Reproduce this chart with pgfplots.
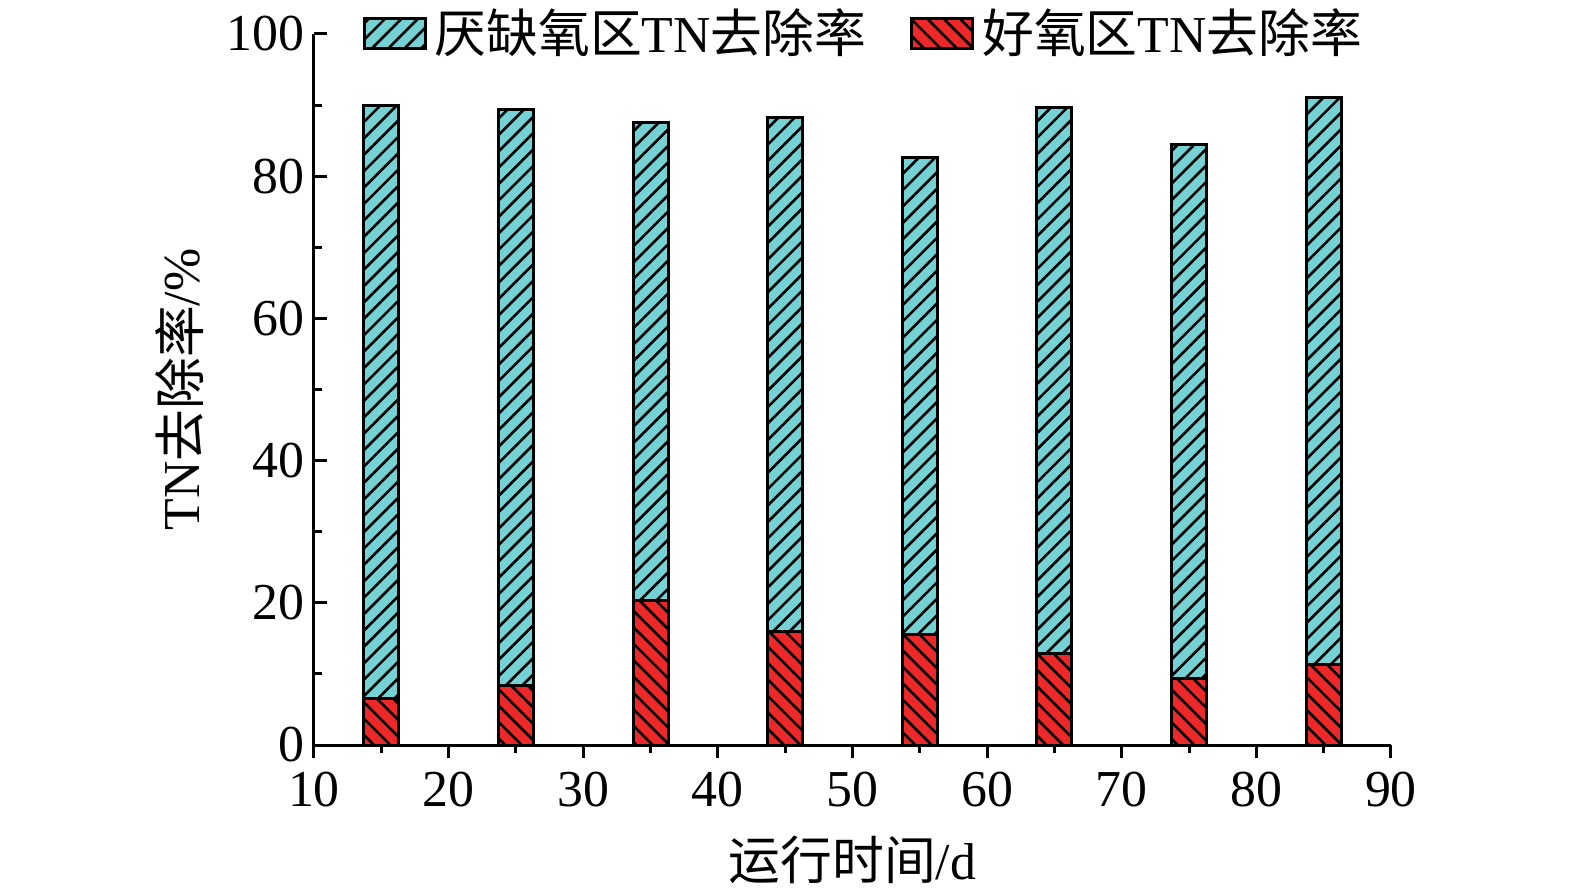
\documentclass[border=0pt]{standalone}
\usepackage{fontspec}
\setmainfont{Liberation Serif}
\newfontfamily\cjk{Noto Sans CJK SC}
\usepackage{pgfplots}
\pgfplotsset{compat=1.18}
\usetikzlibrary{patterns.meta}
\definecolor{cyanbar}{RGB}{116,210,212}
\definecolor{redbar}{RGB}{236,40,40}

\begin{document}
\begin{tikzpicture}
\useasboundingbox (-78.5bp,-37.75bp) rectangle (315.25bp,186.25bp);
\begin{axis}[
  at={(0,0)}, anchor=south west,
  scale only axis, width=269.25bp, height=177.75bp,
  xmin=10, xmax=90, ymin=0, ymax=100,
  xtick={10,20,...,90}, ytick={0,20,...,100},
  minor x tick num=1, minor y tick num=1,
  axis x line*=bottom, axis y line*=left,
  tick align=inside, axis on top,
  major tick length=3.2bp, minor tick length=2bp,
  axis line style={line width=0.75bp, -},
  tick style={line width=0.75bp, black},
  ybar, bar width=2.6,
  font=\fontsize{13}{15}\selectfont,
  /pgf/number format/assume math mode=true,
  yticklabel style={xshift=1bp},
  xlabel={{\cjk 运行时间}/d},
  ylabel={TN{\cjk 去除率}/\%},
  every axis x label/.style={at={(axis description cs:0.5,0)}, yshift=-28.75bp, anchor=center},
  every axis y label/.style={at={(axis description cs:0,0.5)}, xshift=-33.5bp, rotate=90, anchor=center},
  legend style={at={(0.5,1)}, xshift=3.5bp, anchor=center, draw=none, fill=none,
    legend columns=2, /tikz/every even column/.append style={column sep=9bp},
    font=\fontsize{13}{15}\selectfont},
  legend image code/.code={\draw[#1] (-1.5bp,-3.75bp) rectangle (13.75bp,3.75bp);},
]
\addplot[bar shift=0pt, draw=black, line width=0.75bp, fill=cyanbar,
  postaction={pattern={Lines[angle=45,distance=2.9bp,line width=0.65bp]}, pattern color=black}]
  coordinates {(15,90.0) (25,89.4) (35,87.5) (45,88.3) (55,82.6) (65,89.6) (75,84.5) (85,91.0)};
\addlegendentry{{\cjk 厌缺氧区}TN{\cjk 去除率}}
\addplot[bar shift=0pt, draw=black, line width=0.75bp, fill=redbar,
  postaction={pattern={Lines[angle=-45,distance=2.9bp,line width=0.65bp]}, pattern color=black}]
  coordinates {(15,6.5) (25,8.4) (35,20.3) (45,16.0) (55,15.5) (65,12.8) (75,9.3) (85,11.3)};
\addlegendentry{{\cjk 好氧区}TN{\cjk 去除率}}
\end{axis}
\end{tikzpicture}
\end{document}
